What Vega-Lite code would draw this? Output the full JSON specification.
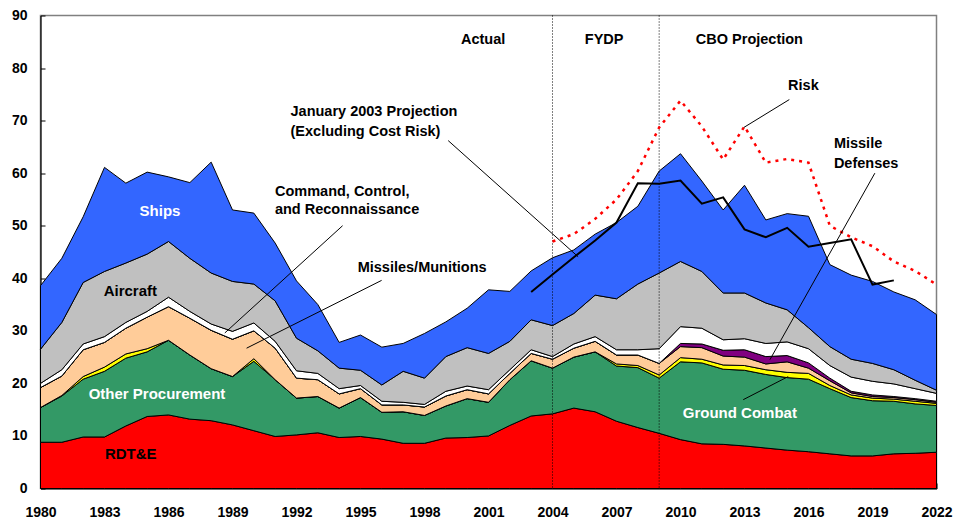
{
  "$schema": "https://vega.github.io/schema/vega-lite/v6.json",
  "width": 896,
  "height": 473,
  "autosize": {"type": "none"},
  "padding": {"left": 40.5, "top": 15.5, "right": 20.5, "bottom": 34.5},
  "background": "white",
  "config": {
    "view": {"stroke": "#808080", "strokeWidth": 1.5},
    "font": "Liberation Sans",
    "axis": {"labelFont": "Liberation Sans", "labelFontWeight": "bold", "labelFontSize": 14, "labelColor": "black", "domainColor": "black", "tickColor": "black", "grid": false}
  },
  "datasets": {
    "budget": [
      {"year":1980,"RDTE":8.8,"OtherProc":6.6,"GroundCombat":0,"Munitions":3.8,"MissileDef":0,"C3R":0.8,"Aircraft":6.5,"Ships":12.1},
      {"year":1981,"RDTE":8.8,"OtherProc":8.8,"GroundCombat":0.1,"Munitions":3.7,"MissileDef":0,"C3R":1.2,"Aircraft":9.0,"Ships":12.2},
      {"year":1982,"RDTE":9.8,"OtherProc":11.0,"GroundCombat":0.5,"Munitions":5.1,"MissileDef":0,"C3R":1.1,"Aircraft":11.7,"Ships":12.5},
      {"year":1983,"RDTE":9.8,"OtherProc":12.5,"GroundCombat":0.8,"Munitions":4.7,"MissileDef":0,"C3R":1.1,"Aircraft":12.4,"Ships":19.8},
      {"year":1984,"RDTE":11.9,"OtherProc":12.9,"GroundCombat":0.8,"Munitions":4.9,"MissileDef":0,"C3R":1.1,"Aircraft":11.3,"Ships":15.2},
      {"year":1985,"RDTE":13.7,"OtherProc":12.3,"GroundCombat":0.6,"Munitions":6.0,"MissileDef":0,"C3R":1.1,"Aircraft":10.9,"Ships":15.6},
      {"year":1986,"RDTE":14.0,"OtherProc":14.2,"GroundCombat":0,"Munitions":6.4,"MissileDef":0,"C3R":1.8,"Aircraft":10.6,"Ships":12.3},
      {"year":1987,"RDTE":13.2,"OtherProc":12.2,"GroundCombat":0,"Munitions":7.0,"MissileDef":0,"C3R":1.3,"Aircraft":10.1,"Ships":14.4},
      {"year":1988,"RDTE":12.9,"OtherProc":9.9,"GroundCombat":0,"Munitions":7.3,"MissileDef":0,"C3R":1.2,"Aircraft":9.7,"Ships":21.1},
      {"year":1989,"RDTE":12.1,"OtherProc":9.2,"GroundCombat":0,"Munitions":7.1,"MissileDef":0,"C3R":1.5,"Aircraft":9.5,"Ships":13.6},
      {"year":1990,"RDTE":11.0,"OtherProc":13.2,"GroundCombat":0.5,"Munitions":5.3,"MissileDef":0,"C3R":1.5,"Aircraft":7.4,"Ships":13.5},
      {"year":1991,"RDTE":9.9,"OtherProc":10.8,"GroundCombat":0,"Munitions":6.0,"MissileDef":0,"C3R":1.3,"Aircraft":7.7,"Ships":11.0},
      {"year":1992,"RDTE":10.2,"OtherProc":7.0,"GroundCombat":0,"Munitions":3.8,"MissileDef":0,"C3R":1.4,"Aircraft":6.2,"Ships":10.9},
      {"year":1993,"RDTE":10.6,"OtherProc":6.9,"GroundCombat":0,"Munitions":3.2,"MissileDef":0,"C3R":1.2,"Aircraft":4.3,"Ships":8.8},
      {"year":1994,"RDTE":9.7,"OtherProc":5.6,"GroundCombat":0,"Munitions":2.7,"MissileDef":0,"C3R":1.0,"Aircraft":3.9,"Ships":4.9},
      {"year":1995,"RDTE":9.9,"OtherProc":7.4,"GroundCombat":0,"Munitions":1.7,"MissileDef":0,"C3R":0.6,"Aircraft":2.9,"Ships":6.7},
      {"year":1996,"RDTE":9.4,"OtherProc":5.1,"GroundCombat":0,"Munitions":1.4,"MissileDef":0,"C3R":0.7,"Aircraft":3.1,"Ships":7.2},
      {"year":1997,"RDTE":8.6,"OtherProc":6.0,"GroundCombat":0,"Munitions":1.3,"MissileDef":0,"C3R":0.5,"Aircraft":5.9,"Ships":5.3},
      {"year":1998,"RDTE":8.6,"OtherProc":5.3,"GroundCombat":0,"Munitions":1.6,"MissileDef":0,"C3R":0.5,"Aircraft":5.0,"Ships":8.5},
      {"year":1999,"RDTE":9.6,"OtherProc":6.1,"GroundCombat":0,"Munitions":1.9,"MissileDef":0,"C3R":0.9,"Aircraft":6.6,"Ships":6.6},
      {"year":2000,"RDTE":9.7,"OtherProc":7.4,"GroundCombat":0,"Munitions":1.7,"MissileDef":0,"C3R":0.7,"Aircraft":7.3,"Ships":7.5},
      {"year":2001,"RDTE":10.0,"OtherProc":6.4,"GroundCombat":0,"Munitions":1.6,"MissileDef":0,"C3R":0.8,"Aircraft":6.9,"Ships":12.1},
      {"year":2002,"RDTE":12.0,"OtherProc":8.7,"GroundCombat":0,"Munitions":1.2,"MissileDef":0,"C3R":0.7,"Aircraft":5.4,"Ships":9.5},
      {"year":2003,"RDTE":13.8,"OtherProc":10.5,"GroundCombat":0,"Munitions":1.4,"MissileDef":0,"C3R":0.7,"Aircraft":5.7,"Ships":9.3},
      {"year":2004,"RDTE":14.2,"OtherProc":8.7,"GroundCombat":0,"Munitions":1.7,"MissileDef":0,"C3R":0.5,"Aircraft":5.9,"Ships":12.9},
      {"year":2005,"RDTE":15.3,"OtherProc":9.7,"GroundCombat":0,"Munitions":1.7,"MissileDef":0,"C3R":0.8,"Aircraft":5.8,"Ships":12.1},
      {"year":2006,"RDTE":14.6,"OtherProc":11.4,"GroundCombat":0,"Munitions":2.0,"MissileDef":0,"C3R":0.9,"Aircraft":7.9,"Ships":11.6},
      {"year":2007,"RDTE":12.8,"OtherProc":10.5,"GroundCombat":0.4,"Munitions":1.7,"MissileDef":0,"C3R":1.0,"Aircraft":9.7,"Ships":14.5},
      {"year":2008,"RDTE":11.6,"OtherProc":11.4,"GroundCombat":0.4,"Munitions":2.0,"MissileDef":0,"C3R":1.0,"Aircraft":12.5,"Ships":14.8},
      {"year":2009,"RDTE":10.5,"OtherProc":10.5,"GroundCombat":0.6,"Munitions":2.2,"MissileDef":0,"C3R":2.8,"Aircraft":14.4,"Ships":19.4},
      {"year":2010,"RDTE":9.3,"OtherProc":14.8,"GroundCombat":0.8,"Munitions":2.1,"MissileDef":0.6,"C3R":3.2,"Aircraft":12.4,"Ships":20.5},
      {"year":2011,"RDTE":8.5,"OtherProc":15.4,"GroundCombat":0.7,"Munitions":2.2,"MissileDef":0.7,"C3R":3.0,"Aircraft":10.8,"Ships":17.2},
      {"year":2012,"RDTE":8.4,"OtherProc":14.3,"GroundCombat":0.8,"Munitions":1.7,"MissileDef":1.1,"C3R":2.0,"Aircraft":8.9,"Ships":15.8},
      {"year":2013,"RDTE":8.1,"OtherProc":14.4,"GroundCombat":0.9,"Munitions":1.6,"MissileDef":1.4,"C3R":2.1,"Aircraft":8.7,"Ships":20.5},
      {"year":2014,"RDTE":7.7,"OtherProc":14.0,"GroundCombat":0.9,"Munitions":1.1,"MissileDef":1.4,"C3R":2.5,"Aircraft":7.7,"Ships":15.8},
      {"year":2015,"RDTE":7.3,"OtherProc":13.8,"GroundCombat":1.0,"Munitions":2.0,"MissileDef":1.2,"C3R":2.6,"Aircraft":6.1,"Ships":18.3},
      {"year":2016,"RDTE":7.0,"OtherProc":13.8,"GroundCombat":1.1,"Munitions":1.0,"MissileDef":1.0,"C3R":2.7,"Aircraft":4.0,"Ships":21.2},
      {"year":2017,"RDTE":6.6,"OtherProc":12.4,"GroundCombat":0.6,"Munitions":0.9,"MissileDef":0.5,"C3R":2.4,"Aircraft":3.6,"Ships":15.6},
      {"year":2018,"RDTE":6.2,"OtherProc":11.1,"GroundCombat":0.5,"Munitions":0.4,"MissileDef":0.3,"C3R":2.7,"Aircraft":3.4,"Ships":16.0},
      {"year":2019,"RDTE":6.2,"OtherProc":10.5,"GroundCombat":0.5,"Munitions":0.3,"MissileDef":0.3,"C3R":2.6,"Aircraft":3.4,"Ships":15.6},
      {"year":2020,"RDTE":6.6,"OtherProc":10.0,"GroundCombat":0.4,"Munitions":0.3,"MissileDef":0.2,"C3R":2.4,"Aircraft":2.7,"Ships":14.8},
      {"year":2021,"RDTE":6.7,"OtherProc":9.4,"GroundCombat":0.5,"Munitions":0.3,"MissileDef":0.2,"C3R":1.9,"Aircraft":1.6,"Ships":15.3},
      {"year":2022,"RDTE":6.9,"OtherProc":8.9,"GroundCombat":0.4,"Munitions":0.2,"MissileDef":0.2,"C3R":1.5,"Aircraft":0.6,"Ships":14.4}
    ],
    "series": [
      {"series":"RDTE","rank":1},
      {"series":"OtherProc","rank":2},
      {"series":"GroundCombat","rank":3},
      {"series":"Munitions","rank":4},
      {"series":"MissileDef","rank":5},
      {"series":"C3R","rank":6},
      {"series":"Aircraft","rank":7},
      {"series":"Ships","rank":8}
    ],
    "projections": [
      {"year":2003,"jan":37.4,"risk":null},
      {"year":2004,"jan":40.7,"risk":47.0},
      {"year":2005,"jan":44.0,"risk":48.4},
      {"year":2006,"jan":47.2,"risk":51.3},
      {"year":2007,"jan":50.6,"risk":55.0},
      {"year":2008,"jan":58.1,"risk":60.4},
      {"year":2009,"jan":58.0,"risk":68.7},
      {"year":2010,"jan":58.6,"risk":73.8},
      {"year":2011,"jan":54.2,"risk":68.9},
      {"year":2012,"jan":55.4,"risk":62.6},
      {"year":2013,"jan":49.3,"risk":68.9},
      {"year":2014,"jan":47.8,"risk":62.0},
      {"year":2015,"jan":49.6,"risk":62.7},
      {"year":2016,"jan":46.0,"risk":62.0},
      {"year":2017,"jan":46.7,"risk":50.0},
      {"year":2018,"jan":47.4,"risk":47.8},
      {"year":2019,"jan":38.8,"risk":46.1},
      {"year":2020,"jan":39.6,"risk":43.2},
      {"year":2021,"jan":null,"risk":41.4},
      {"year":2022,"jan":null,"risk":38.8}
    ]
  },
  "encoding": {
    "x": {
      "field": "year", "type": "quantitative",
      "scale": {"domain": [1980, 2022], "nice": false, "zero": false},
      "axis": {
        "title": null,
        "values": [1980,1981,1982,1983,1984,1985,1986,1987,1988,1989,1990,1991,1992,1993,1994,1995,1996,1997,1998,1999,2000,2001,2002,2003,2004,2005,2006,2007,2008,2009,2010,2011,2012,2013,2014,2015,2016,2017,2018,2019,2020,2021,2022],
        "format": "d",
        "labelExpr": "(datum.value - 1980) % 3 == 0 ? datum.label : ''",
        "labelOverlap": false,
        "labelFlush": false,
        "tickSize": -5.5,
        "labelPadding": 22,
        "domainWidth": 1.2
      }
    }
  },
  "layer": [
    {
      "data": {"name": "budget"},
      "transform": [
        {"fold": ["RDTE","OtherProc","GroundCombat","Munitions","MissileDef","C3R","Aircraft","Ships"], "as": ["series","value"]},
        {"lookup": "series", "from": {"data": {"name": "series"}, "key": "series", "fields": ["rank"]}}
      ],
      "mark": {"type": "area", "stroke": "black", "strokeWidth": 1, "opacity": 1},
      "encoding": {
        "y": {
          "field": "value", "type": "quantitative", "stack": "zero",
          "scale": {"domain": [0, 90], "nice": false},
          "axis": {"title": null, "values": [0,10,20,30,40,50,60,70,80,90], "tickSize": -4.5, "labelPadding": 18, "labelFlush": false, "domainWidth": 1.2}
        },
        "color": {
          "field": "series", "type": "nominal", "legend": null,
          "scale": {
            "domain": ["RDTE","OtherProc","GroundCombat","Munitions","MissileDef","C3R","Aircraft","Ships"],
            "range": ["#FF0000","#339966","#FFFF00","#FFCC99","#800080","#FFFFFF","#C0C0C0","#3366FF"]
          }
        },
        "order": {"field": "rank", "type": "quantitative"}
      }
    },
    {
      "data": {"values": [{"year": 2004}, {"year": 2009}]},
      "mark": {"type": "rule", "color": "black", "strokeWidth": 1, "strokeDash": [1, 2]},
      "encoding": {}
    },
    {
      "data": {"name": "projections"},
      "mark": {"type": "line", "color": "black", "strokeWidth": 2},
      "encoding": {
        "y": {"field": "jan", "type": "quantitative", "scale": {"domain": [0, 90], "nice": false}, "axis": {"title": null}}
      }
    },
    {
      "data": {"name": "projections"},
      "mark": {"type": "line", "color": "#FF0000", "strokeWidth": 2.5, "strokeDash": [3, 5]},
      "encoding": {
        "y": {"field": "risk", "type": "quantitative", "scale": {"domain": [0, 90], "nice": false}, "axis": {"title": null}}
      }
    },
    {
      "data": {"values": [
        {"year": 1994.16, "value": 50.0, "year2": 1988.64, "value2": 29.6},
        {"year": 1995.99, "value": 39.6, "year2": 1989.66, "value2": 26.7},
        {"year": 1999.11, "value": 66.2, "year2": 2005.20, "value2": 44.1},
        {"year": 2015.10, "value": 74.0, "year2": 2012.97, "value2": 68.7},
        {"year": 2019.11, "value": 60.0, "year2": 2014.19, "value2": 24.5},
        {"year": 2012.94, "value": 16.9, "year2": 2015.05, "value2": 21.3}
      ]},
      "mark": {"type": "rule", "color": "black", "strokeWidth": 1},
      "encoding": {
        "y": {"field": "value", "type": "quantitative", "scale": {"domain": [0, 90], "nice": false}, "axis": {"title": null}},
        "x2": {"field": "year2"},
        "y2": {"field": "value2"}
      }
    },
    {
      "data": {"values": [
        {"label": "Ships", "year": 1985.6, "value": 52.8},
        {"label": "Other Procurement", "year": 1985.46, "value": 18.0},
        {"label": "Ground Combat", "year": 2012.78, "value": 14.4}
      ]},
      "mark": {"type": "text", "color": "white", "font": "Liberation Sans", "fontWeight": "bold", "fontSize": 15, "align": "center", "baseline": "middle"},
      "encoding": {
        "y": {"field": "value", "type": "quantitative", "scale": {"domain": [0, 90], "nice": false}, "axis": {"title": null}},
        "text": {"field": "label"}
      }
    },
    {
      "data": {"values": [
        {"label": "Aircraft", "year": 1984.21, "value": 37.5},
        {"label": "RDT&E", "year": 1984.23, "value": 6.6}
      ]},
      "mark": {"type": "text", "color": "black", "font": "Liberation Sans", "fontWeight": "bold", "fontSize": 15, "align": "center", "baseline": "middle"},
      "encoding": {
        "y": {"field": "value", "type": "quantitative", "scale": {"domain": [0, 90], "nice": false}, "axis": {"title": null}},
        "text": {"field": "label"}
      }
    },
    {
      "data": {"values": [
        {"label": "Missiles/Munitions", "year": 1997.89, "value": 41.9},
        {"label": "Risk", "year": 2015.76, "value": 76.5},
        {"label": "Actual", "year": 2000.75, "value": 85.3},
        {"label": "FYDP", "year": 2006.42, "value": 85.3},
        {"label": "CBO Projection", "year": 2013.23, "value": 85.3}
      ]},
      "mark": {"type": "text", "color": "black", "font": "Liberation Sans", "fontWeight": "bold", "fontSize": 14.5, "align": "center", "baseline": "middle"},
      "encoding": {
        "y": {"field": "value", "type": "quantitative", "scale": {"domain": [0, 90], "nice": false}, "axis": {"title": null}},
        "text": {"field": "label"}
      }
    },
    {
      "data": {"values": [
        {"label": "Command, Control,", "year": 1990.99, "value": 56.4},
        {"label": "and Reconnaissance", "year": 1990.99, "value": 52.9},
        {"label": "January 2003 Projection", "year": 1991.72, "value": 71.7},
        {"label": "(Excluding Cost Risk)", "year": 1991.72, "value": 67.9},
        {"label": "Missile", "year": 2017.19, "value": 65.6},
        {"label": "Defenses", "year": 2017.19, "value": 61.8}
      ]},
      "mark": {"type": "text", "color": "black", "font": "Liberation Sans", "fontWeight": "bold", "fontSize": 14.5, "align": "left", "baseline": "middle"},
      "encoding": {
        "y": {"field": "value", "type": "quantitative", "scale": {"domain": [0, 90], "nice": false}, "axis": {"title": null}},
        "text": {"field": "label"}
      }
    }
  ]
}
